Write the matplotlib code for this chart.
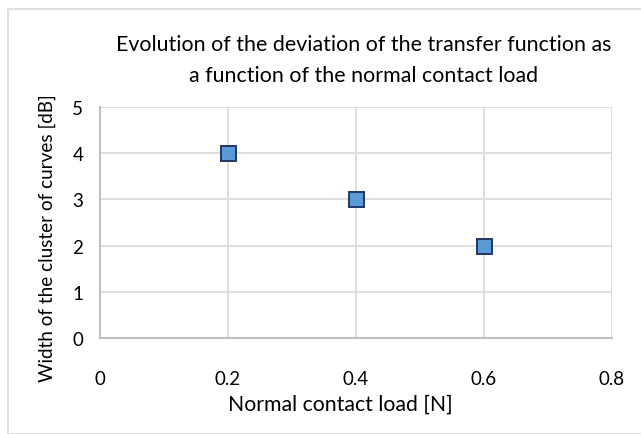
import matplotlib
matplotlib.use("Agg")
import matplotlib.pyplot as plt
from matplotlib.patches import Rectangle

plt.rcParams['font.family'] = ['Lato', 'DejaVu Sans']

load = [0.2, 0.4, 0.6]
width = [4, 3, 2]
xticks = [0, 0.2, 0.4, 0.6, 0.8]
xticklabels = ['0', '0.2', '0.4', '0.6', '0.8']
yticks = [0, 1, 2, 3, 4, 5]
title_lines = ['Evolution of the deviation of the transfer function as',
               'a function of the normal contact load']
xlabel = 'Normal contact load [N]'
ylabel = 'Width of the cluster of curves [dB]'

W, H = 641, 435
fig = plt.figure(figsize=(W/100, H/100), dpi=100)
renderer = fig.canvas.get_renderer()


def fit_size(text, target_px, base=12.0):
    t = fig.text(0, 0, text, fontsize=base)
    w = t.get_window_extent(renderer=renderer).width
    t.remove()
    return base * target_px / w


title_fs = fit_size(title_lines[0], 492)
label_fs = fit_size(xlabel, 224)
ylabel_fs = fit_size(ylabel, 287)
tick_fs = fit_size('0.4', 26)

fig.patches.append(Rectangle((8/W, 0), 2, 1 - 10/H, transform=fig.transFigure,
                             fill=False, edgecolor='#d9d9d9', linewidth=1.2))

ax = fig.add_axes([100/W, 1 - 339/H, (612-100)/W, (339-108)/H])
ax.set_xlim(0, 0.8)
ax.set_ylim(0, 5)
ax.set_xticks(xticks)
ax.set_xticklabels(xticklabels)
ax.set_yticks(yticks)
ax.grid(True, color='#d9d9d9', linewidth=1.2)
ax.set_axisbelow(True)
for s in ['top', 'right']:
    ax.spines[s].set_visible(False)
for s in ['left', 'bottom']:
    ax.spines[s].set_color('#bfbfbf')
    ax.spines[s].set_linewidth(1.5)
ax.tick_params(length=0, labelsize=tick_fs, colors='#000000')
ax.tick_params(axis='x', pad=23)
ax.tick_params(axis='y', pad=12)

ax.plot(load, width, linestyle='none', marker='s', markersize=10.8,
        markerfacecolor='#5b9bd5', markeredgecolor='#203864', markeredgewidth=1.4,
        clip_on=False, zorder=3)

ax.set_xlabel(xlabel, fontsize=label_fs)
ax.xaxis.label.set_va('center')
ax.xaxis.set_label_coords(340/W, 1 - 405/H, transform=fig.transFigure)

ax.set_ylabel(ylabel, fontsize=ylabel_fs)
ax.yaxis.label.set_va('center')
ax.yaxis.label.set_rotation_mode('default')
ax.yaxis.set_label_coords(47/W, 1 - 238/H, transform=fig.transFigure)

fig.text(364/W, 1 - 45/H, title_lines[0], ha='center', va='center', fontsize=title_fs)
fig.text(364/W, 1 - 76/H, title_lines[1], ha='center', va='center', fontsize=title_fs)

fig.savefig('out.png', dpi=100, facecolor='white')
